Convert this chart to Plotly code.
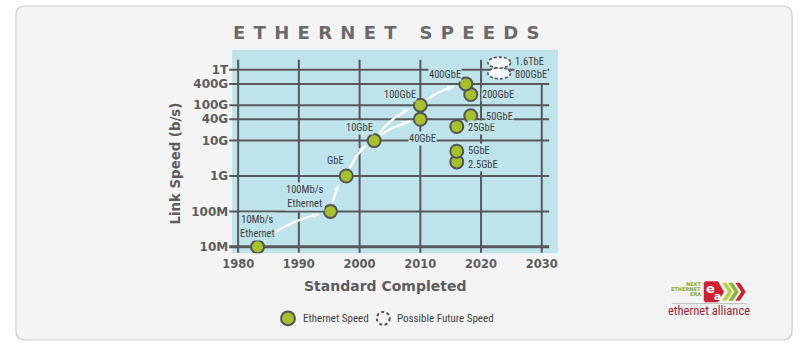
import numpy as np
import plotly.graph_objects as go

# ---------------- data ----------------
speed_names = ["10Mb/s<br>Ethernet", "100Mb/s<br>Ethernet", "GbE", "10GbE", "40GbE", "100GbE",
               "2.5GbE", "5GbE", "25GbE", "50GbE", "200GbE", "400GbE"]
speed_years = [1983.2, 1995.2, 1997.8, 2002.4, 2010.0, 2010.0,
               2016.0, 2016.0, 2016.0, 2018.3, 2018.3, 2017.5]
speed_bps = [1e7, 1e8, 1e9, 1e10, 4e10, 1e11,
             2.5e9, 5e9, 2.5e10, 5e10, 2e11, 4e11]
future_names = ["800GbE", "1.6TbE"]
future_years = [2023.0, 2023.0]
future_bps = [8e11, 1.6e12]
x_tick_years = [1980, 1990, 2000, 2010, 2020, 2030]
y_tick_bps = [1e7, 1e8, 1e9, 1e10, 4e10, 1e11, 4e11, 1e12]
y_tick_labels = ["10M", "100M", "1G", "10G", "40G", "100G", "400G", "1T"]
arrow_from_idx = [0, 1, 2, 3, 3, 5]
arrow_to_idx = [1, 2, 3, 5, 4, 11]

# ---------------- style / layout constants ----------------
W, H = 800, 349
PL, PR, PT, PB = 225, 555, 50, 254
X_RANGE = [1979.02, 2032.68]
Y_RANGE = [6.817, 12.563]
BLUE = "#bee3eb"
GRID = "#58585a"
GREEN = "#a6c22b"
EDGE = "#545456"
TEXT = "#3f3f41"
AXIS_TEXT = "#5c5c5e"
BOX_FILL = "#f4f4f4"
BOX_LINE = "#cdcdcd"
NARROW = "Liberation Sans Narrow, Noto Sans Condensed, Roboto Condensed, Noto Sans, sans-serif"
BOLDF = "DejaVu Sans, Lato, sans-serif"

# label placement relative to the point (xanchor, xshift px, yshift px)
label_style = [("center", 0, 20), ("center", -25, 15), ("center", -11, 15),
               ("center", -15, 13), ("center", 2, -19), ("center", -20, 11),
               ("left", 10, -3), ("left", 10, 1), ("left", 10, -1),
               ("left", 14, -1), ("left", 10, 0), ("center", -21, 9)]
future_label_style = [("left", 15, -1), ("left", 15, 1)]


def cond(text):
    return "<br>".join(f"<span style='font-stretch:condensed'>{t}</span>" for t in text.split("<br>"))


def fx(px):
    return px / W


def fy(py):
    return 1 - py / H


def data_to_px(year, bps):
    px = PL + (year - X_RANGE[0]) / (X_RANGE[1] - X_RANGE[0]) * (PR - PL)
    py = PB - (np.log10(bps) - Y_RANGE[0]) / (Y_RANGE[1] - Y_RANGE[0]) * (PB - PT)
    return np.array([px, py])


def px_to_data(px, py):
    year = X_RANGE[0] + (px - PL) / (PR - PL) * (X_RANGE[1] - X_RANGE[0])
    lg = Y_RANGE[0] + (PB - py) / (PB - PT) * (Y_RANGE[1] - Y_RANGE[0])
    return year, 10 ** lg


fig = go.Figure()
shapes = []

# outer rounded card
r = 10
x0, y0, x1, y1 = 6, 6, 792, 341
pts = [("M", x0 + r, y0), ("L", x1 - r, y0), ("Q", x1, y0, x1, y0 + r), ("L", x1, y1 - r),
       ("Q", x1, y1, x1 - r, y1), ("L", x0 + r, y1), ("Q", x0, y1, x0, y1 - r),
       ("L", x0, y0 + r), ("Q", x0, y0, x0 + r, y0)]
path = ""
for p in pts:
    cmd, vals = p[0], p[1:]
    coords = [f"{fx(vals[i]):.5f},{fy(vals[i+1]):.5f}" for i in range(0, len(vals), 2)]
    path += cmd + " ".join(coords) + " "
path += "Z"
shapes.append(dict(type="path", path=path, xref="paper", yref="paper", layer="below",
                   fillcolor=BOX_FILL, line=dict(color=BOX_LINE, width=1.2)))

# blue plotting panel
shapes.append(dict(type="rect", xref="paper", yref="paper", x0=fx(PL), x1=fx(PR), y0=fy(PB), y1=fy(PT),
                   layer="below", fillcolor=BLUE, line=dict(width=0)))

# gridlines (horizontal at each y tick, vertical at each x tick)
for i, v in enumerate(y_tick_bps):
    shapes.append(dict(type="line", xref="paper", yref="y", x0=fx(222), x1=fx(546), y0=v, y1=v,
                       layer="below", line=dict(color=GRID, width=3 if i == 0 else 2)))
for yr in x_tick_years:
    top = 84 if yr == x_tick_years[-1] else 60
    shapes.append(dict(type="line", xref="x", yref="paper", x0=yr, x1=yr, y0=fy(253.5), y1=fy(top),
                       layer="below", line=dict(color=GRID, width=2)))

# curved white arrows between generations
for a, b in zip(arrow_from_idx, arrow_to_idx):
    p0 = data_to_px(speed_years[a], speed_bps[a])
    p1 = data_to_px(speed_years[b], speed_bps[b])
    d = p1 - p0
    c = p0 + np.array([0.35 * d[0], 0.75 * d[1]])
    t = np.linspace(0, 1, 300)[:, None]
    curve = (1 - t) ** 2 * p0 + 2 * (1 - t) * t * c + t ** 2 * p1
    keep = (np.hypot(*(curve - p0).T) >= 9) & (np.hypot(*(curve - p1).T) >= 10)
    sel = curve[keep]
    xs, ys = px_to_data(sel[:, 0], sel[:, 1])
    n = len(xs)
    fig.add_trace(go.Scatter(
        x=xs, y=ys, mode="lines+markers",
        line=dict(color="white", width=2.3),
        marker=dict(symbol="arrow", angleref="previous", size=[0] * (n - 1) + [9],
                    color="white", line=dict(width=0)),
        hoverinfo="skip", showlegend=False))

# ethernet speed points
fig.add_trace(go.Scatter(
    x=speed_years, y=speed_bps, mode="markers", name="Ethernet Speed",
    marker=dict(size=13, color=GREEN, line=dict(color=EDGE, width=2)),
    showlegend=False, text=[s.replace("<br>", " ") for s in speed_names],
    hovertemplate="%{text}<extra></extra>"))

# possible future speeds (dashed ellipses)
EW, EH = 23, 11
for yr, v in zip(future_years, future_bps):
    c = data_to_px(yr, v)
    xa, ya = px_to_data(c[0] - EW / 2, c[1] + EH / 2)
    xb, yb = px_to_data(c[0] + EW / 2, c[1] - EH / 2)
    shapes.append(dict(type="circle", xref="x", yref="y", x0=xa, x1=xb, y0=ya, y1=yb,
                       layer="above", fillcolor="#f6fbfc",
                       line=dict(color=EDGE, width=1.6, dash="3px,2px")))

annotations = []
lab_font = dict(family=NARROW, size=10.5, color=TEXT)
for name, yr, v, (xa, xs_, ys_) in zip(speed_names, speed_years, speed_bps, label_style):
    annotations.append(dict(x=yr, y=np.log10(v), xref="x", yref="y", text=cond(name), showarrow=False,
                            xanchor=xa, yanchor="middle", xshift=xs_, yshift=ys_, align="center",
                            font=lab_font, bgcolor=BLUE, borderpad=0))
for name, yr, v, (xa, xs_, ys_) in zip(future_names, future_years, future_bps, future_label_style):
    annotations.append(dict(x=yr, y=np.log10(v), xref="x", yref="y", text=cond(name), showarrow=False,
                            xanchor=xa, yanchor="middle", xshift=xs_, yshift=ys_,
                            font=lab_font, bgcolor=BLUE, borderpad=0))

# title and axis titles
annotations.append(dict(x=fx(385), y=fy(32.5), xref="paper", yref="paper", showarrow=False,
                        text="<span style='letter-spacing:8.3px'>ETHERNET SPEEDS</span>",
                        font=dict(family=BOLDF, size=18, color="#6a6a6d", weight="bold"),
                        xanchor="center", yanchor="middle"))
annotations.append(dict(x=fx(168), y=fy(164), xref="paper", yref="paper", showarrow=False,
                        text="Link Speed (b/s)", textangle=-90,
                        font=dict(family=BOLDF, size=13.3, color=AXIS_TEXT, weight="bold"),
                        xanchor="center", yanchor="middle"))
annotations.append(dict(x=fx(380), y=fy(286.5), xref="paper", yref="paper", showarrow=False,
                        text="Standard Completed",
                        font=dict(family=BOLDF, size=14, color=AXIS_TEXT, weight="bold"),
                        xanchor="center", yanchor="middle"))

# manual legend
shapes.append(dict(type="circle", xref="paper", yref="paper", x0=fx(274.5), x1=fx(288.5),
                   y0=fy(326.3), y1=fy(312.3), fillcolor=GREEN, line=dict(color=EDGE, width=2)))
shapes.append(dict(type="circle", xref="paper", yref="paper", x0=fx(371.5), x1=fx(384.5),
                   y0=fy(325.8), y1=fy(312.8), fillcolor="rgba(0,0,0,0)",
                   line=dict(color=EDGE, width=2, dash="3px,2.5px")))
annotations.append(dict(x=fx(295), y=fy(319.5), xref="paper", yref="paper", showarrow=False,
                        text=cond("Ethernet Speed"), xanchor="left", yanchor="middle",
                        font=dict(family=NARROW, size=11, color=TEXT)))
annotations.append(dict(x=fx(390), y=fy(319.5), xref="paper", yref="paper", showarrow=False,
                        text=cond("Possible Future Speed"), xanchor="left", yanchor="middle",
                        font=dict(family=NARROW, size=11, color=TEXT)))


# ethernet alliance logo (decorative)
def ppath(points):
    return "M" + " L".join(f"{fx(a):.5f},{fy(b):.5f}" for a, b in points) + " Z"


shapes.append(dict(type="path", xref="paper", yref="paper", layer="above",
                   path=ppath([(704, 282), (717, 282), (723, 292.5), (717, 303), (704, 303), (702.5, 301),
                               (702.5, 284)]),
                   fillcolor="#cc2231", line=dict(width=0)))
for x0c, col in [(721, "#b9d23c"), (727.5, "#8cb43b"), (734.5, "#cc2231")]:
    shapes.append(dict(type="path", xref="paper", yref="paper", layer="above",
                       path=ppath([(x0c, 283.5), (x0c + 4.5, 283.5), (x0c + 10.5, 292.5), (x0c + 4.5, 301.5),
                                   (x0c, 301.5), (x0c + 6, 292.5)]),
                       fillcolor=col, line=dict(width=0)))
shapes.append(dict(type="line", xref="paper", yref="paper", x0=fx(670), x1=fx(746), y0=fy(304.5), y1=fy(304.5),
                   line=dict(color="#bdbdbd", width=1)))
annotations.append(dict(x=fx(709), y=fy(289), xref="paper", yref="paper", showarrow=False, text="e",
                        xanchor="center", yanchor="middle",
                        font=dict(family="DejaVu Sans", size=13, color="white", weight="bold")))
annotations.append(dict(x=fx(716), y=fy(297), xref="paper", yref="paper", showarrow=False, text="a",
                        xanchor="center", yanchor="middle",
                        font=dict(family="DejaVu Sans", size=11, color="white", weight="bold")))
for txt, yy in [("NEXT", 285), ("ETHERNET", 290), ("ERA", 295)]:
    annotations.append(dict(x=fx(702), y=fy(yy), xref="paper", yref="paper", showarrow=False, text=txt,
                            xanchor="right", yanchor="middle",
                            font=dict(family="DejaVu Sans", size=5, color="#7fa83a", weight="bold")))
annotations.append(dict(x=fx(707.5), y=fy(311.5), xref="paper", yref="paper", showarrow=False,
                        text=cond("ethernet alliance"), xanchor="center", yanchor="middle",
                        font=dict(family=NARROW, size=12.5, color="#9e2632")))

fig.update_layout(
    width=W, height=H, margin=dict(l=0, r=0, t=0, b=0),
    paper_bgcolor="white", plot_bgcolor="rgba(0,0,0,0)",
    shapes=shapes, annotations=annotations, showlegend=False,
    xaxis=dict(domain=[fx(PL), fx(PR)], range=X_RANGE, tickvals=x_tick_years,
               showgrid=False, zeroline=False, showline=False, ticks="",
               tickfont=dict(family=BOLDF, size=11.5, color=AXIS_TEXT, weight="bold"),
               ticklabelstandoff=2, fixedrange=True),
    yaxis=dict(domain=[fy(PB), fy(PT)], type="log", range=Y_RANGE, tickvals=y_tick_bps,
               ticktext=y_tick_labels, showgrid=False, zeroline=False, showline=False, ticks="",
               tickfont=dict(family=BOLDF, size=12, color=AXIS_TEXT, weight="bold"),
               ticklabelstandoff=3, fixedrange=True),
)

fig.write_html("out.html")
